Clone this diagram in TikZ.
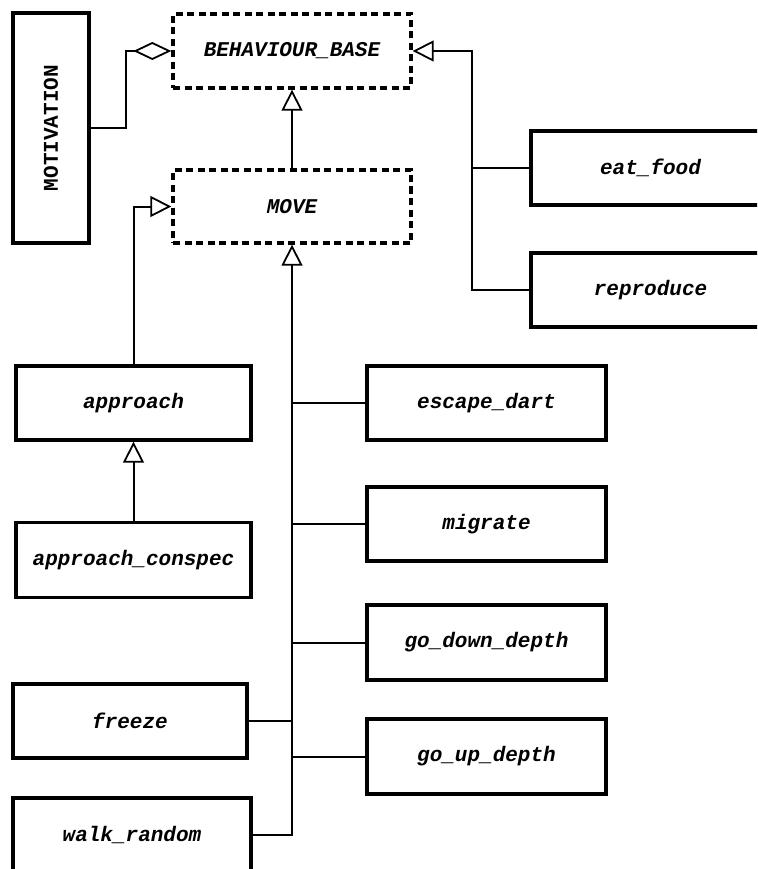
\documentclass[tikz,border=0pt]{standalone}
\usepackage{fontspec}
\setmonofont{Liberation Mono}
\usetikzlibrary{arrows.meta}
\begin{document}
\begin{tikzpicture}[x=1pt,y=-1pt,
  labelfont/.style={font=\fontsize{21}{25}\selectfont\ttfamily\bfseries\itshape},
  classbox/.style={draw, line width=3.4pt, fill=white, rectangle, inner sep=0pt, labelfont},
  abstractbox/.style={classbox, dashed, dash pattern=on 7pt off 4.5pt},
  link/.style={draw, line width=2pt},
  inherit/.style={link, -{Triangle[open, length=21pt, width=21pt, line width=1.8pt, fill=white]}},
  aggregate/.style={link, -{Diamond[open, length=38pt, width=18pt, line width=1.8pt, fill=white]}}
]
\clip (0,0) rectangle (757,869);
\fill[white] (0,0) rectangle (757,869);

% abstract classes
\node[abstractbox, minimum width=238pt, minimum height=74pt] (base) at (292,51) {BEHAVIOUR\_BASE};
\node[abstractbox, minimum width=238pt, minimum height=73pt] (move) at (292,206.5) {MOVE};

% motivation
\node[classbox, minimum width=76pt, minimum height=230pt] (motiv) at (51,128)
  {\rotatebox{90}{\fontsize{21}{25}\selectfont\ttfamily\bfseries\upshape MOTIVATION}};

% direct children of the base
\node[classbox, minimum width=239pt, minimum height=74pt] (eat) at (650.5,168) {eat\_food};
\node[classbox, minimum width=239pt, minimum height=74pt] (repro) at (650.5,290) {reproduce};

% left column
\node[classbox, minimum width=235pt, minimum height=74pt] (appr) at (133.5,403) {approach};
\node[classbox, minimum width=235pt, minimum height=75pt] (conspec) at (133.5,560) {approach\_conspec};
\node[classbox, minimum width=234pt, minimum height=74pt] (freeze) at (130,721) {freeze};
\node[classbox, minimum width=238pt, minimum height=74pt] (walk) at (132,835) {walk\_random};

% right column
\node[classbox, minimum width=239pt, minimum height=74pt] (escape) at (486.5,403) {escape\_dart};
\node[classbox, minimum width=239pt, minimum height=74pt] (migrate) at (486.5,524) {migrate};
\node[classbox, minimum width=239pt, minimum height=75pt] (godown) at (486.5,642.5) {go\_down\_depth};
\node[classbox, minimum width=239pt, minimum height=75pt] (goup) at (486.5,756.5) {go\_up\_depth};

% aggregation
\draw[aggregate] (motiv.east) -- ++(35,0) |- (base.west);

% inheritance into the base
\coordinate (basejoin) at (472,51);
\draw[inherit] (move.north) -- (base.south);
\draw[inherit] (repro.west) -| (basejoin) -- (base.east);
\draw[link] (eat.west) -- (eat.west -| basejoin);

% inheritance into MOVE
\draw[inherit] (appr.north) |- (move.west);
\draw[inherit] (conspec.north) -- (appr.south);
\draw[inherit] (walk.east) -| (move.south);
\draw[link] (freeze.east) -- (freeze.east -| move.south);
\draw[link] (escape.west) -- (escape.west -| move.south);
\draw[link] (migrate.west) -- (migrate.west -| move.south);
\draw[link] (godown.west) -- (godown.west -| move.south);
\draw[link] (goup.west) -- (goup.west -| move.south);
\end{tikzpicture}
\end{document}
